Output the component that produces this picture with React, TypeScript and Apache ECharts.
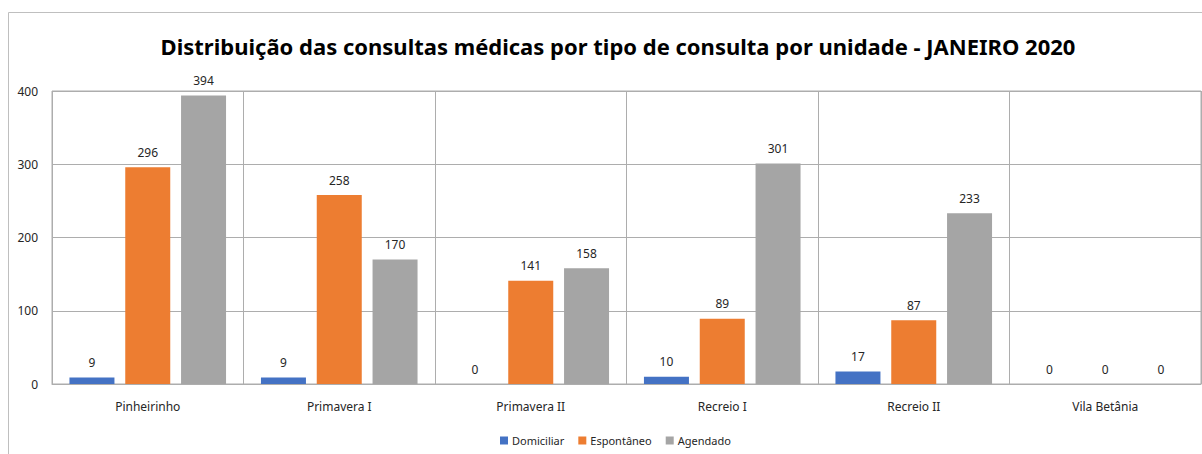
import React, { useEffect, useRef } from "react";
import * as echarts from "echarts";

const categories = ["Pinheirinho", "Primavera I", "Primavera II", "Recreio I", "Recreio II", "Vila Betânia"];
const domiciliar = [9, 9, 0, 10, 17, 0];
const espontaneo = [296, 258, 141, 89, 87, 0];
const agendado = [394, 170, 158, 301, 233, 0];
const seriesNames = ["Domiciliar", "Espontâneo", "Agendado"];
const colors = ["#4472C4", "#ED7D31", "#A5A5A5"];

const FONT = "Noto Sans";

export default function App() {
  const ref = useRef<HTMLDivElement>(null);
  useEffect(() => {
    if (!ref.current) return;
    const chart = echarts.init(ref.current, null, { renderer: "svg" });
    const mk = (name: string, data: number[], color: string) => ({
      name,
      type: "bar",
      data,
      barWidth: 45,
      barGap: "24%",
      itemStyle: { color },
      label: {
        show: true,
        position: "top",
        distance: 9,
        color: "#262626",
        fontSize: 12,
        fontFamily: FONT,
      },
    });
    chart.setOption({
      animation: false,
      backgroundColor: "#fff",
      title: {
        text: "Distribuição das consultas médicas por tipo de consulta por unidade - JANEIRO 2020",
        left: 613,
        textAlign: "center",
        top: 30,
        textStyle: { fontFamily: FONT, fontWeight: "bold", fontSize: 22, color: "#000" },
      },
      graphic: [
        {
          type: "rect",
          shape: { x: 8.5, y: 12.5, width: 1300, height: 600 },
          style: { fill: "none", stroke: "#BFBFBF", lineWidth: 1 },
          silent: true,
          z: -1,
        },
      ],
      legend: {
        data: seriesNames,
        left: 495,
        top: 430,
        itemWidth: 8,
        itemHeight: 8,
        itemGap: 14,
        icon: "rect",
        textStyle: { fontFamily: FONT, fontSize: 11, color: "#262626", padding: [0, 0, 0, -1] },
      },
      grid: {
        left: 52,
        top: 91,
        right: 1,
        bottom: 70,
        show: true,
        borderColor: "#ADADAD",
        borderWidth: 1,
      },
      xAxis: {
        type: "category",
        data: categories,
        axisLine: { show: true, lineStyle: { color: "#ADADAD" } },
        axisTick: { show: false },
        axisLabel: { color: "#262626", fontSize: 12, fontFamily: FONT, margin: 16 },
        splitLine: { show: true, interval: 0, lineStyle: { color: "#ADADAD" } },
      },
      yAxis: {
        type: "value",
        min: 0,
        max: 400,
        interval: 100,
        axisLine: { show: false },
        axisTick: { show: false },
        axisLabel: { color: "#262626", fontSize: 12, fontFamily: FONT, margin: 14 },
        splitLine: { lineStyle: { color: "#ADADAD" } },
      },
      series: [
        mk(seriesNames[0], domiciliar, colors[0]),
        mk(seriesNames[1], espontaneo, colors[1]),
        mk(seriesNames[2], agendado, colors[2]),
      ],
    });
    return () => chart.dispose();
  }, []);
  return (
    <div
      ref={ref}
      style={{ position: "absolute", left: 0, top: 0, width: 1202, height: 454 }}
    />
  );
}
